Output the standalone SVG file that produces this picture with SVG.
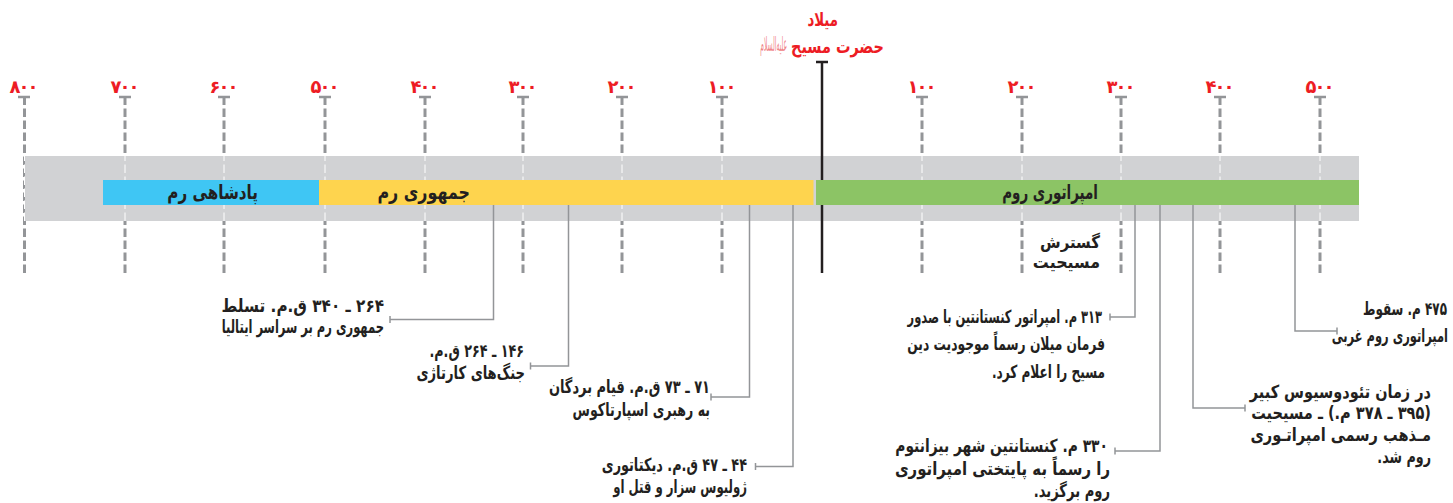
<svg xmlns="http://www.w3.org/2000/svg" width="1453" height="503" viewBox="0 0 1453 503">
<style>
text{font-family:"DejaVu Sans","Noto Sans",sans-serif;font-weight:bold;fill:#231f20;direction:rtl}
.n{font-size:18px;fill:#ed1c24;direction:ltr;text-anchor:middle}
.r{font-size:19px;fill:#ed1c24}
.l{font-size:18px}
.h{font-size:20px}
.g{font-size:17px}
.tick{stroke:#939598;stroke-width:3;stroke-dasharray:8.500 3.500;fill:none}
.cap{stroke:#939598;stroke-width:2.500;fill:none}
.wd{stroke:#fff;stroke-width:1;stroke-dasharray:8.500 3.500;fill:none}
.c{stroke:#939598;stroke-width:1.500;fill:none}
</style>
<g id="ticks">
<path class="cap" d="M18 97H30M119 97H131M218 97H230M319 97H331M419 97H431M517 97H529M616 97H628M716 97H728M916 97H928M1016 97H1028M1115 97H1127M1214 97H1226M1314 97H1326"/>
<path class="tick" d="M24.500 273V97M125 273V97M224 273V97M325 273V97M425 273V97M523 273V97M622 273V97M722 273V97M922 273V97M1022 273V97M1121 273V97M1220 273V97M1320 273V97"/>
</g>
<rect id="band" x="25" y="156" width="1334" height="65" fill="#d1d2d4"/>
<path id="band-ticks" class="wd" d="M24.500 221V156M125 221V156M224 221V156M325 221V156M425 221V156M523 221V156M622 221V156M722 221V156M922 221V156M1022 221V156M1121 221V156M1220 221V156M1320 221V156"/>
<g id="axis"><path d="M822 62V273M816 62H828" stroke="#231f20" stroke-width="2.500" fill="none"/></g>
<g id="period-kingdom"><rect x="103" y="180" width="216" height="25" fill="#3fc6f4"/><text class="h" transform="translate(258 199) scale(.758 1)">پادشاهی رم</text></g>
<g id="period-republic"><rect x="319" y="180" width="494.500" height="25" fill="#fed44e"/><text class="h" transform="translate(470 199) scale(.795 1)">جمهوری رم</text></g>
<g id="period-empire"><rect x="816" y="180" width="543" height="25" fill="#8cc465"/><text class="h" transform="translate(1098 199) scale(.675 1)">امپراتوری روم</text></g>
<g id="connectors">
<path class="c" d="M493.500 205V319.500H390M390 316V323"/>
<path class="c" d="M568.500 205V366H530.500M530.500 362.500V369.500"/>
<path class="c" d="M749.500 205V397H711M711 393.500V400.500"/>
<path class="c" d="M793 205V466.500H755.500M755.500 463V470"/>
<path class="c" d="M1135 205V317H1110M1110 313.500V320.500"/>
<path class="c" d="M1160 205V451H1115M1115 447.500V454.500"/>
<path class="c" d="M1193 205V408H1245M1245 404.500V411.500"/>
<path class="c" d="M1295 205V331H1337M1337 327.500V334.500"/>
</g>
<g id="years">
<text class="n" x="24" y="93" textLength="29" lengthAdjust="spacing">۸۰۰</text>
<text class="n" x="125" y="93" textLength="29" lengthAdjust="spacing">۷۰۰</text>
<text class="n" x="224" y="93" textLength="29" lengthAdjust="spacing">۶۰۰</text>
<text class="n" x="325" y="93" textLength="29" lengthAdjust="spacing">۵۰۰</text>
<text class="n" x="425" y="93" textLength="29" lengthAdjust="spacing">۴۰۰</text>
<text class="n" x="523" y="93" textLength="29" lengthAdjust="spacing">۳۰۰</text>
<text class="n" x="622" y="93" textLength="29" lengthAdjust="spacing">۲۰۰</text>
<text class="n" x="722" y="93" textLength="29" lengthAdjust="spacing">۱۰۰</text>
<text class="n" x="922" y="93" textLength="29" lengthAdjust="spacing">۱۰۰</text>
<text class="n" x="1022" y="93" textLength="29" lengthAdjust="spacing">۲۰۰</text>
<text class="n" x="1121" y="93" textLength="29" lengthAdjust="spacing">۳۰۰</text>
<text class="n" x="1220" y="93" textLength="29" lengthAdjust="spacing">۴۰۰</text>
<text class="n" x="1320" y="93" textLength="29" lengthAdjust="spacing">۵۰۰</text>
</g>
<g id="birth">
<text class="r" transform="translate(838 26) scale(.7 1)">میلاد</text>
<text class="r" transform="translate(884 53) scale(.76 1)">حضرت مسیح</text>
<text font-size="20" style="font-weight:normal;fill:#f0868a" transform="translate(787 51) scale(.3 1)">علیه‌السلام</text>
</g>
<g id="christianity"><text class="g" transform="translate(1100 248) scale(.88 1)">گسترش</text><text class="g" transform="translate(1100 268) scale(.933 1)">مسیحیت</text></g>
<g id="event-1"><text class="l" transform="translate(384 312) scale(.848 1)">۲۶۴ ـ ۳۴۰ ق.م. تسلط</text><text class="l" transform="translate(384 333) scale(.64 1)">جمهوری رم بر سراسر ایتالیا</text></g>
<g id="event-2"><text class="l" transform="translate(524 357) scale(.707 1)">۱۴۶ ـ ۲۶۴ ق.م.</text><text class="l" transform="translate(525 379) scale(.73 1)">جنگ‌های کارتاژی</text></g>
<g id="event-3"><text class="l" transform="translate(710 393) scale(.722 1)">۷۱ ـ ۷۳ ق.م. قیام بردگان</text><text class="l" transform="translate(710 416) scale(.7 1)">به رهبری اسپارتاکوس</text></g>
<g id="event-4"><text class="l" transform="translate(747 471) scale(.713 1)">۴۴ ـ ۴۷ ق.م. دیکتاتوری</text><text class="l" transform="translate(747 493) scale(.65 1)">ژولیوس سزار و قتل او</text></g>
<g id="event-5"><text class="l" transform="translate(1102 323) scale(.637 1)">۳۱۳ م. امپراتور کنستانتین با صدور</text><text class="l" transform="translate(1105 350) scale(.683 1)">فرمان میلان رسماً موجودیت دین</text><text class="l" transform="translate(1105 378) scale(.673 1)">مسیح را اعلام کرد.</text></g>
<g id="event-6"><text class="l" transform="translate(1108 452) scale(.769 1)">۳۳۰ م. کنستانتین شهر بیزانتوم</text><text class="l" transform="translate(1110 475) scale(.83 1)">را  رسماً به پایتختی امپراتوری</text><text class="l" transform="translate(1110 497) scale(.73 1)">روم برگزید.</text></g>
<g id="event-7"><text class="l" transform="translate(1431 397.500) scale(.804 1)">در زمان تئودوسیوس کبیر</text><text class="l" transform="translate(1431 419) scale(.81 1)">(۳۹۵ ـ ۳۷۸ م.) ـ مسیحیت</text><text class="l" transform="translate(1431 441) scale(.81 1)">مـذهب رسمی امپراتـوری</text><text class="l" transform="translate(1431 463) scale(.707 1)">روم شد.</text></g>
<g id="event-8"><text class="l" transform="translate(1447 315) scale(.667 1)">۴۷۵ م. سقوط</text><text class="l" transform="translate(1448 342) scale(.637 1)">امپراتوری روم غربی</text></g>
</svg>
